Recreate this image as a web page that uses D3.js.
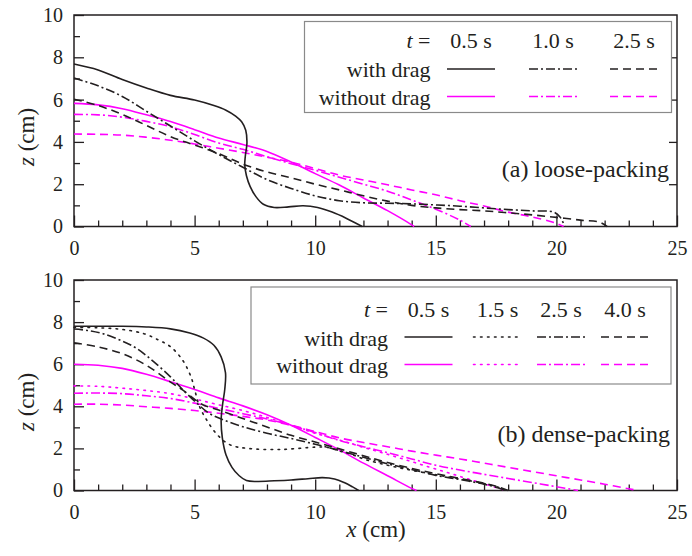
<!DOCTYPE html>
<html><head><meta charset="utf-8">
<script src="https://cdn.jsdelivr.net/npm/d3@7"></script>
<style>body{margin:0;background:#fff}svg{display:block}svg text{font-family:"Liberation Serif","Times New Roman",Times,serif}</style>
</head><body>
<svg id="c" width="692" height="556"></svg>
<script>
// ---------- data ----------
const xMajorTicks = [0, 5, 10, 15, 20, 25];
const xMinorTicks = d3.range(0, 26, 1);
const zMajorTicks = [0, 2, 4, 6, 8, 10];
const zMinorTicks = [1, 3, 5, 7, 9];

const looseTimes = ["0.5 s", "1.0 s", "2.5 s"];
const denseTimes = ["0.5 s", "1.5 s", "2.5 s", "4.0 s"];
const legendRows = ["with drag", "without drag"];

// (a) loose-packing
const looseDrag05 = [[0,7.68],[1,7.4],[2,6.95],[3,6.55],[4,6.2],[5,5.98],[5.8,5.72],[6.3,5.5],[6.7,5.22],[6.95,4.95],[7.12,4.55],[7.17,3.95],[7.1,3.3],[7.08,2.9],[7.15,2.4],[7.3,1.9],[7.55,1.4],[7.85,1.05],[8.3,0.9],[8.9,0.93],[9.5,0.98],[10.1,0.9],[10.7,0.68],[11.3,0.38],[11.95,0]];
const looseDrag10 = [[0,7.02],[1,6.65],[2,6.15],[3,5.45],[4,4.75],[5,4.05],[6,3.4],[7,2.8],[8,2.22],[9,1.8],[10,1.45],[11,1.22],[12,1.12],[13,1.1],[14,1.07],[15,1.02],[16,0.96],[17,0.88],[18,0.8],[19,0.74],[19.9,0.68],[20.15,0.45],[20.35,0]];
const looseDrag25 = [[0,6.02],[1,5.72],[2,5.3],[3,4.78],[4,4.25],[5,3.85],[6,3.45],[7,2.95],[8,2.58],[9,2.3],[10,2.0],[11,1.73],[12,1.45],[13,1.2],[14,1.0],[15,0.88],[16,0.8],[17,0.74],[18,0.65],[19,0.55],[20,0.43],[21,0.3],[21.8,0.2],[22.1,0]];
const looseNoDrag05 = [[0,5.82],[1,5.75],[2,5.57],[3,5.28],[4,4.96],[5,4.58],[6,4.18],[7,3.88],[8,3.55],[9,3.05],[10,2.5],[11,1.96],[12,1.35],[13,0.75],[14,0.08],[14.1,0]];
const looseNoDrag10 = [[0,5.3],[1,5.28],[2,5.17],[3,4.97],[4,4.72],[5,4.35],[6,3.95],[7,3.65],[8,3.3],[9,2.97],[10,2.66],[11,2.33],[12,2.0],[13,1.67],[14,1.25],[15,0.82],[16,0.3],[16.45,0]];
const looseNoDrag25 = [[0,4.37],[1,4.36],[2,4.32],[3,4.22],[4,4.08],[5,3.9],[6,3.7],[7,3.5],[8,3.28],[9,3.04],[10,2.74],[11,2.43],[12,2.2],[13,1.97],[14,1.73],[15,1.5],[16,1.22],[17,0.97],[18,0.68],[19,0.45],[20,0.15],[20.3,0]];

// (b) dense-packing
const denseDrag05 = [[0,7.8],[1,7.8],[2,7.8],[3,7.77],[4,7.68],[4.8,7.48],[5.35,7.25],[5.8,6.9],[6.1,6.35],[6.28,5.6],[6.25,4.8],[6.15,4.0],[6.1,3.3],[6.15,2.5],[6.3,1.7],[6.55,1.1],[6.85,0.7],[7.15,0.47],[7.6,0.43],[8.3,0.46],[9.0,0.5],[9.7,0.56],[10.3,0.61],[10.8,0.55],[11.2,0.38],[11.55,0.17],[11.8,0]];
const denseDrag15 = [[0,7.75],[1,7.73],[2,7.65],[2.9,7.45],[3.5,7.15],[4,6.83],[4.5,6.2],[4.85,5.4],[5.0,4.8],[5.2,4.0],[5.45,3.45],[5.9,2.7],[6.45,2.18],[7.2,2.0],[8.6,1.95],[10,2.06],[10.5,2.05],[11,1.88],[11.5,1.72],[12,1.5],[13,1.2],[14,0.96],[15,0.75],[16,0.55],[17,0.33],[17.6,0.15],[17.9,0]];
const denseDrag25 = [[0,7.67],[0.6,7.6],[1.2,7.45],[1.9,7.15],[2.6,6.75],[3.3,6.12],[4,5.4],[4.5,4.8],[5.1,4.14],[5.6,3.67],[6.2,3.35],[7,3.03],[8,2.72],[9,2.47],[10,2.2],[11,1.9],[12,1.58],[13,1.27],[14,1.0],[15,0.72],[16,0.52],[17,0.3],[17.6,0.12],[17.9,0]];
const denseDrag40 = [[0,7.02],[1,6.82],[2,6.5],[3,5.95],[4,5.15],[4.5,4.78],[5.3,4.1],[6,3.82],[7,3.42],[8,3.02],[9,2.62],[10,2.3],[11,1.98],[12,1.65],[13,1.33],[14,1.05],[15,0.8],[16,0.57],[17,0.35],[17.7,0.13],[18,0]];
const denseNoDrag05 = [[0,6.0],[1,5.95],[2,5.8],[3,5.52],[4,5.17],[5,4.8],[6,4.4],[7,4.02],[8,3.6],[9,3.1],[10,2.52],[11,1.93],[12,1.3],[13,0.7],[14,0.1],[14.2,0]];
const denseNoDrag15 = [[0,4.97],[1,4.95],[2,4.86],[3,4.75],[4,4.6],[5,4.35],[6,4.07],[7,3.8],[8,3.47],[9,3.1],[10,2.72],[11,2.4],[12,2.05],[13,1.72],[14,1.37],[15,1.02],[16,0.67],[17,0.32],[17.9,0]];
const denseNoDrag25 = [[0,4.62],[1,4.63],[2,4.6],[3,4.5],[4,4.37],[5,4.15],[6,3.9],[7,3.65],[8,3.4],[9,3.1],[10,2.75],[11,2.38],[12,2.08],[13,1.8],[14,1.5],[15,1.2],[16,0.97],[17,0.77],[18,0.57],[19,0.38],[20,0.18],[20.9,0]];
const denseNoDrag40 = [[0,4.1],[1,4.1],[2,4.06],[3,3.98],[4,3.9],[5,3.8],[6,3.67],[7,3.52],[8,3.35],[9,3.1],[10,2.8],[11,2.5],[12,2.28],[13,2.08],[14,1.87],[15,1.68],[16,1.5],[17,1.3],[18,1.1],[19,0.9],[20,0.7],[21,0.5],[22,0.3],[23,0.08],[23.4,0]];

// ---------- styles ----------
const FONT = "Liberation Serif";
const BLACK = "#231f20", PINK = "#ff00ff";
const DASH = {solid: null, dashdot: "9,3,2,3", dashed: "8,5", dotted: "1.6,5.4"};
const LW = 1.6;

const svg = d3.select("#c");
const x = d3.scaleLinear().domain([0, 25]).range([74, 677]);

const panels = [
  {
    y: d3.scaleLinear().domain([0, 10]).range([226.5, 15]),
    times: looseTimes,
    dashes: ["solid", "dashdot", "dashed"],
    drag: [looseDrag05, looseDrag10, looseDrag25],
    nodrag: [looseNoDrag05, looseNoDrag10, looseNoDrag25],
    rightTicks: true,
    label: "(a) loose-packing", labelX: 669, labelY: 177,
    legend: {x0: 304.5, y0: 21.5, x1: 671.5, y1: 112.5, labelR: 430.5,
             headY: 48, rowY: [77, 105], lineY: [69, 96.5],
             colC: [471, 553, 634], colW: 48},
    zLabelY: 137
  },
  {
    y: d3.scaleLinear().domain([0, 10]).range([490.5, 280]),
    times: denseTimes,
    dashes: ["solid", "dotted", "dashdot", "dashed"],
    drag: [denseDrag05, denseDrag15, denseDrag25, denseDrag40],
    nodrag: [denseNoDrag05, denseNoDrag15, denseNoDrag25, denseNoDrag40],
    rightTicks: false,
    label: "(b) dense-packing", labelX: 670, labelY: 442,
    legend: {x0: 251, y0: 287, x1: 671, y1: 384, labelR: 388,
             headY: 317, rowY: [346, 373], lineY: [337, 364.5],
             colC: [428.5, 497.5, 561, 625], colW: 48},
    zLabelY: 402
  }
];

const line = d3.line().x(d => x(d[0])).curve(d3.curveCatmullRom.alpha(0.5));

function txt(sel) {
  return sel.style("font-family", '"Liberation Serif", "Times New Roman", serif').attr("fill", BLACK);
}

panels.forEach(p => {
  const g = svg.append("g");
  const y = p.y;
  const [yb, yt] = y.range();

  const bx = g.append("g").attr("transform", `translate(0,${yb})`);
  bx.call(d3.axisBottom(x).tickValues(xMinorTicks.filter(v => v % 5 !== 0)).tickSize(-6).tickFormat(""));
  bx.select(".domain").remove();
  const bxM = g.append("g").attr("transform", `translate(0,${yb})`);
  bxM.call(d3.axisBottom(x).tickValues(xMajorTicks).tickSize(-11).tickPadding(14).tickFormat(d3.format("d")));
  bxM.select(".domain").remove();

  const ly = g.append("g").attr("transform", `translate(${x(0)},0)`);
  ly.call(d3.axisLeft(y).tickValues(zMinorTicks).tickSize(-6).tickFormat(""));
  ly.select(".domain").remove();
  const lyM = g.append("g").attr("transform", `translate(${x(0)},0)`);
  lyM.call(d3.axisLeft(y).tickValues(zMajorTicks).tickSize(-10).tickPadding(11).tickFormat(d3.format("d")));
  lyM.select(".domain").remove();

  if (p.rightTicks) {
    const ry = g.append("g").attr("transform", `translate(${x(25)},0)`);
    ry.call(d3.axisRight(y).tickValues(zMajorTicks.slice(1, -1)).tickSize(-8).tickFormat(""));
    ry.select(".domain").remove();
  }

  g.selectAll("g").attr("font-family", null);
  g.selectAll(".tick line").attr("stroke", BLACK).attr("stroke-width", 1.3);
  txt(g.selectAll(".tick text")).style("font-size", "20px");

  g.append("rect").attr("x", x(0)).attr("y", yt).attr("width", x(25) - x(0)).attr("height", yb - yt)
    .attr("fill", "none").attr("stroke", BLACK).attr("stroke-width", 1.5);

  const ln = line.y(d => y(d[1]));
  const drawSeries = (data, color, dash) => {
    g.append("path").datum(data).attr("d", ln).attr("fill", "none")
      .attr("stroke", color).attr("stroke-width", LW)
      .attr("stroke-dasharray", DASH[dash])
      .attr("stroke-linecap", dash === "dotted" ? "round" : "butt");
  };
  p.nodrag.forEach((d, i) => drawSeries(d, PINK, p.dashes[i]));
  p.drag.forEach((d, i) => drawSeries(d, BLACK, p.dashes[i]));

  const L = p.legend;
  const lg = g.append("g");
  lg.append("rect").attr("x", L.x0).attr("y", L.y0).attr("width", L.x1 - L.x0).attr("height", L.y1 - L.y0)
    .attr("fill", "#fff").attr("stroke", "#8a8a8a").attr("stroke-width", 1.2);
  const head = txt(lg.append("text")).attr("x", L.labelR).attr("y", L.headY).attr("text-anchor", "end")
    .style("font-size", "22px");
  head.append("tspan").style("font-style", "italic").text("t");
  head.append("tspan").text(" =");
  p.times.forEach((t, i) => {
    txt(lg.append("text")).attr("x", L.colC[i]).attr("y", L.headY).attr("text-anchor", "middle")
      .style("font-size", "22px").text(t);
  });
  legendRows.forEach((r, ri) => {
    txt(lg.append("text")).attr("x", L.labelR).attr("y", L.rowY[ri]).attr("text-anchor", "end")
      .style("font-size", "22px").text(r);
    p.times.forEach((t, i) => {
      const dash = p.dashes[i];
      lg.append("line").attr("x1", L.colC[i] - L.colW / 2).attr("x2", L.colC[i] + L.colW / 2)
        .attr("y1", L.lineY[ri]).attr("y2", L.lineY[ri])
        .attr("stroke", ri === 0 ? BLACK : PINK).attr("stroke-width", LW)
        .attr("stroke-dasharray", DASH[dash])
        .attr("stroke-linecap", dash === "dotted" ? "round" : "butt");
    });
  });

  txt(g.append("text")).attr("x", p.labelX).attr("y", p.labelY).attr("text-anchor", "end")
    .style("font-size", "24px").text(p.label);

  const zl = txt(g.append("text")).attr("transform", `translate(34,${p.zLabelY}) rotate(-90)`)
    .attr("text-anchor", "middle").style("font-size", "23px");
  zl.append("tspan").style("font-style", "italic").text("z");
  zl.append("tspan").text(" (cm)");
});

const xl = txt(svg.append("text")).attr("x", 376).attr("y", 537).attr("text-anchor", "middle")
  .style("font-size", "23px");
xl.append("tspan").style("font-style", "italic").text("x");
xl.append("tspan").text(" (cm)");
</script>
</body></html>
